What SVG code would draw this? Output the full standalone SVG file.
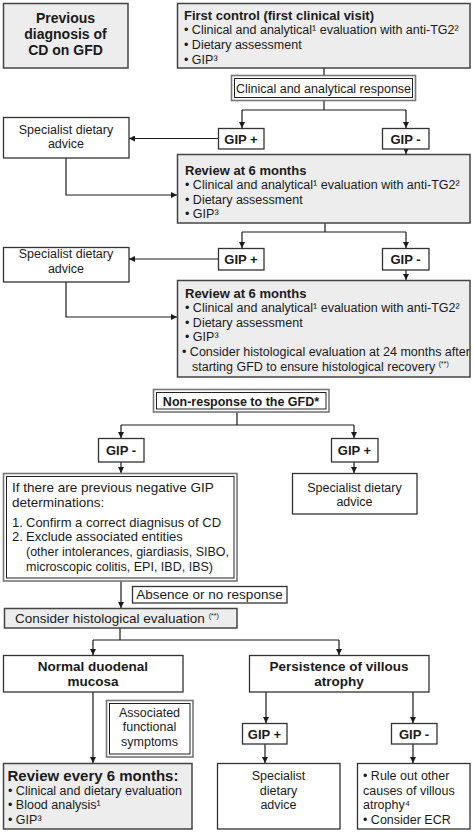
<svg xmlns="http://www.w3.org/2000/svg" width="474" height="834" viewBox="0 0 474 834">
<defs>
<marker id="ah" markerWidth="6" markerHeight="6" refX="6" refY="3" orient="auto" markerUnits="userSpaceOnUse"><path d="M0,0 L6,3 L0,6 z" fill="#1a1a1a"/></marker>
</defs>
<style>
text{font-family:"Liberation Sans",Arial,sans-serif;fill:#1a1a1a;font-size:12.5px}
.b{font-weight:bold}
.c{text-anchor:middle}
.w{fill:#fff;stroke:#333;stroke-width:1.3}
.g{fill:#ededed;stroke:#444;stroke-width:1.5}
.o{fill:#fff;stroke:#777;stroke-width:1.6}
.i{fill:none;stroke:#222;stroke-width:1}
.cn path{fill:none;stroke:#1a1a1a;stroke-width:1.2}
.ar{marker-end:url(#ah)}
.sup{font-size:7px}
</style>
<rect width="474" height="834" fill="#fff"/>
<g class="cn" id="connectors">
<path d="M324,68 V75"/>
<path d="M324,101 V110"/>
<path d="M242,110 H406"/>
<path class="ar" d="M242,110 V128"/>
<path class="ar" d="M406,110 V128"/>
<path class="ar" d="M218,138.5 H129"/>
<path class="ar" d="M406,149 V154"/>
<path class="ar" d="M66,158 V195 H177"/>
<path d="M325,223 V232"/>
<path d="M242,232 H406"/>
<path class="ar" d="M242,232 V248"/>
<path class="ar" d="M406,232 V248"/>
<path class="ar" d="M218,259 H129"/>
<path class="ar" d="M406,270 V280"/>
<path class="ar" d="M66,282 V317 H177"/>
<path d="M237,412 V425"/>
<path d="M121,425 H354"/>
<path class="ar" d="M121,425 V438"/>
<path class="ar" d="M354,425 V438"/>
<path class="ar" d="M121,462 V473"/>
<path class="ar" d="M354,462 V473"/>
<path class="ar" d="M121,581 V608"/>
<path d="M120,628 V640"/>
<path d="M93,640 H339"/>
<path class="ar" d="M93,640 V655"/>
<path class="ar" d="M339,640 V655"/>
<path class="ar" d="M266,692 V723"/>
<path class="ar" d="M413,692 V723"/>
<path class="ar" d="M265,744 V763"/>
<path class="ar" d="M413,744 V763"/>
<path class="ar" d="M93,692 V763"/>
</g>
<g id="prev">
<rect class="g" x="3.5" y="3.5" width="124.5" height="64.5"/>
<text class="b c" x="65.5" y="23" style="font-size:14px">Previous</text>
<text class="b c" x="65.5" y="39" style="font-size:14px">diagnosis of</text>
<text class="b c" x="65.5" y="55" style="font-size:14px">CD on GFD</text>
</g>
<g id="first">
<rect class="g" x="177.5" y="3.5" width="292.5" height="64.5"/>
<text class="b" x="184" y="20" style="font-size:13px">First control (first clinical visit)</text>
<text x="184" y="34">• Clinical and analytical¹ evaluation with anti-TG2²</text>
<text x="184" y="49">• Dietary assessment</text>
<text x="184" y="63.5">• GIP³</text>
</g>
<g id="resp">
<rect class="o" x="231.5" y="75.5" width="184" height="25"/>
<rect class="i" x="234.5" y="78.5" width="178" height="19"/>
<text class="c" x="323.5" y="92.5">Clinical and analytical response</text>
</g>
<g id="gipp1">
<rect class="w" x="218.5" y="128.5" width="45.5" height="20.5"/>
<text class="b c" x="241" y="143.5" style="font-size:13px">GIP +</text>
</g>
<g id="gipm1">
<rect class="w" x="382.5" y="128.5" width="46.5" height="20.5"/>
<text class="b c" x="405.5" y="143.5" style="font-size:13px">GIP -</text>
</g>
<g id="spec1">
<rect class="w" x="3.5" y="117.5" width="125.5" height="40.5"/>
<text class="c" x="66" y="133.5">Specialist dietary</text>
<text class="c" x="66" y="148">advice</text>
</g>
<g id="rev1">
<rect class="g" x="177.5" y="154.5" width="292.5" height="68.5"/>
<text class="b" x="185" y="175" style="font-size:13px">Review at 6 months</text>
<text x="185" y="188.5">• Clinical and analytical¹ evaluation with anti-TG2²</text>
<text x="185" y="203.5">• Dietary assessment</text>
<text x="185" y="217.5">• GIP³</text>
</g>
<g id="gipp2">
<rect class="w" x="218.5" y="248.5" width="45.5" height="21.5"/>
<text class="b c" x="241" y="264" style="font-size:13px">GIP +</text>
</g>
<g id="gipm2">
<rect class="w" x="382.5" y="248.5" width="46.5" height="21.5"/>
<text class="b c" x="405.5" y="264" style="font-size:13px">GIP -</text>
</g>
<g id="spec2">
<rect class="w" x="3.5" y="247.5" width="125.5" height="34.5"/>
<text class="c" x="66" y="258">Specialist dietary</text>
<text class="c" x="66" y="272.5">advice</text>
</g>
<g id="rev2">
<rect class="g" x="177.5" y="280.5" width="292.5" height="96.5"/>
<text class="b" x="185" y="298" style="font-size:13px">Review at 6 months</text>
<text x="185" y="311.5">• Clinical and analytical¹ evaluation with anti-TG2²</text>
<text x="185" y="326.5">• Dietary assessment</text>
<text x="185" y="340.5">• GIP³</text>
<text x="182" y="355.5">• Consider histological evaluation at 24 months after</text>
<text x="192" y="370.5">starting GFD to ensure histological recovery <tspan class="sup" dy="-5">(**)</tspan></text>
</g>
<g id="nonresp">
<rect class="o" x="153.5" y="389.5" width="175.5" height="22.5"/>
<rect class="i" x="156.5" y="392.5" width="169.5" height="16.5"/>
<text class="b c" x="241" y="405.5">Non-response to the GFD*</text>
</g>
<g id="gipm3">
<rect class="w" x="98.5" y="438.5" width="45.5" height="23.5"/>
<text class="b c" x="121" y="455" style="font-size:13px">GIP -</text>
</g>
<g id="gipp3">
<rect class="w" x="331.5" y="438.5" width="46.5" height="23.5"/>
<text class="b c" x="354.5" y="455" style="font-size:13px">GIP +</text>
</g>
<g id="ifbox">
<rect class="o" x="3.5" y="473.5" width="233.5" height="107.5"/>
<rect class="i" x="6.5" y="476.5" width="227.5" height="101.5"/>
<text x="12" y="492" style="font-size:13.5px">If there are previous negative GIP</text>
<text x="12" y="507" style="font-size:13.5px">determinations:</text>
<text x="12" y="527" style="font-size:13px">1.<tspan x="26">Confirm a correct diagnisus of CD</tspan></text>
<text x="12" y="541" style="font-size:13px">2.<tspan x="26">Exclude associated entities</tspan></text>
<text x="26" y="555.5" style="font-size:12.5px" textLength="203" lengthAdjust="spacingAndGlyphs">(other intolerances, giardiasis, SIBO,</text>
<text x="26" y="571" style="font-size:12.5px" textLength="187" lengthAdjust="spacingAndGlyphs">microscopic colitis, EPI, IBD, IBS)</text>
</g>
<g id="spec3">
<rect class="w" x="292.5" y="473.5" width="124.5" height="40.5"/>
<text class="c" x="354.5" y="491.5">Specialist dietary</text>
<text class="c" x="354.5" y="505.5">advice</text>
</g>
<g id="absence">
<rect class="w" x="132.5" y="586.5" width="154.5" height="16.5"/>
<text class="c" x="209.5" y="599" style="font-size:13.5px">Absence or no response</text>
</g>
<g id="consider">
<rect class="g" x="4.5" y="608.5" width="232.5" height="19.5"/>
<text x="15" y="623" style="font-size:13.5px">Consider histological evaluation <tspan class="sup" dy="-5">(**)</tspan></text>
</g>
<g id="normal">
<rect class="w" x="3.5" y="655.5" width="179.5" height="36.5"/>
<text class="b c" x="93" y="671" style="font-size:13.5px">Normal duodenal</text>
<text class="b c" x="93" y="686" style="font-size:13.5px">mucosa</text>
</g>
<g id="persist">
<rect class="w" x="249.5" y="655.5" width="179.5" height="36.5"/>
<text class="b c" x="339" y="671" style="font-size:13.5px">Persistence of villous</text>
<text class="b c" x="339" y="686" style="font-size:13.5px">atrophy</text>
</g>
<g id="assoc">
<rect class="o" x="106.5" y="700.5" width="86.5" height="56.5"/>
<rect class="i" x="109.5" y="703.5" width="80.5" height="50.5"/>
<text class="c" x="149.5" y="716.5">Associated</text>
<text class="c" x="149.5" y="730.5">functional</text>
<text class="c" x="149.5" y="746">symptoms</text>
</g>
<g id="gipp4">
<rect class="w" x="242.5" y="723.5" width="44.5" height="20.5"/>
<text class="b c" x="264.5" y="738.5" style="font-size:13px">GIP +</text>
</g>
<g id="gipm4">
<rect class="w" x="391.5" y="723.5" width="45.5" height="20.5"/>
<text class="b c" x="414" y="738.5" style="font-size:13px">GIP -</text>
</g>
<g id="reviewevery">
<rect class="g" x="3.5" y="763.5" width="188.5" height="65.5"/>
<text class="b" x="7.5" y="780.5" style="font-size:15px">Review every 6 months:</text>
<text x="8" y="794.5">• Clinical and dietary evaluation</text>
<text x="8" y="808.5">• Blood analysis¹</text>
<text x="8" y="823.5">• GIP³</text>
</g>
<g id="spec4">
<rect class="w" x="217.5" y="763.5" width="122.5" height="65.5"/>
<text class="c" x="278.5" y="780">Specialist</text>
<text class="c" x="278.5" y="794.5">dietary</text>
<text class="c" x="278.5" y="809">advice</text>
</g>
<g id="ruleout">
<rect class="w" x="357.5" y="763.5" width="112.5" height="65.5"/>
<text x="363" y="780">• Rule out other</text>
<text x="363" y="794.5">causes of villous</text>
<text x="363" y="809">atrophy⁴</text>
<text x="363" y="823.5">• Consider ECR</text>
</g>
</svg>
